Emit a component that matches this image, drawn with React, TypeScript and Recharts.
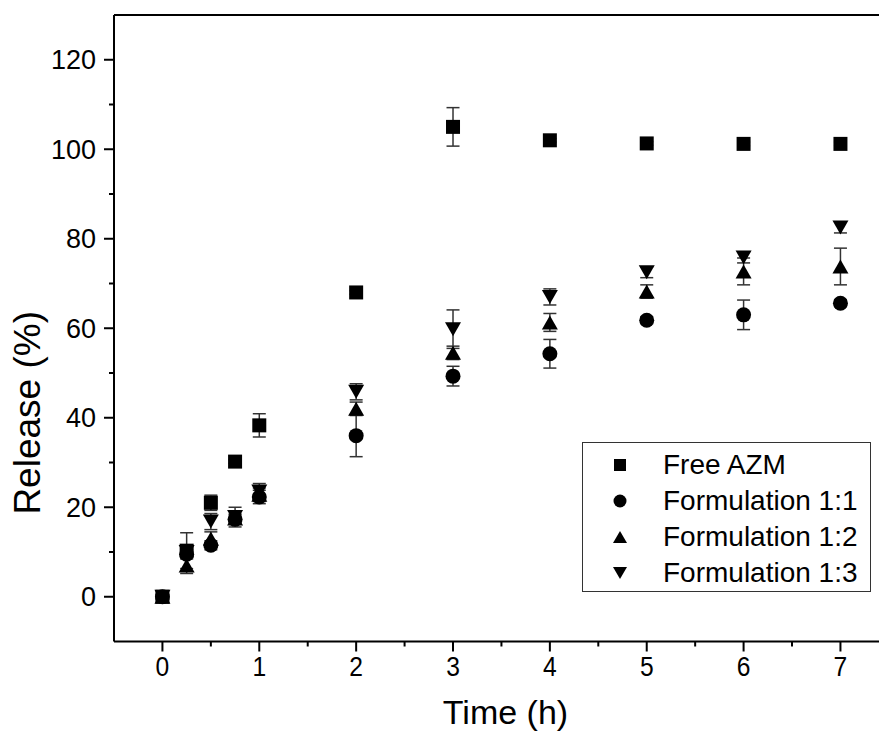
import {
  ScatterChart,
  Scatter,
  XAxis,
  YAxis,
  ErrorBar,
  ReferenceLine,
  Legend,
  Label,
} from "recharts";

const TIMES = [0, 0.25, 0.5, 0.75, 1, 2, 3, 4, 5, 6, 7];

const FREE_AZM = [0, 10.3, 21, 30.2, 38.3, 68, 105, 102, 101.3, 101.2, 101.2];
const FREE_AZM_ERR = [0.4, 4, 1.7, 0.4, 2.6, 0.4, 4.3, 0.4, 0.4, 0.4, 0.4];

const F11 = [0, 9.5, 11.5, 17.3, 22.3, 36, 49.3, 54.3, 61.8, 63, 65.6];
const F11_ERR = [0.4, 1, 1, 1, 1.5, 4.7, 2.2, 3.2, 0.8, 3.3, 0.8];

const F12 = [0, 7, 13, 17.5, 22.8, 42, 54.5, 61.3, 68.2, 72.7, 73.8];
const F12_ERR = [0.4, 1.8, 1.5, 1, 1.5, 1.5, 1.5, 2, 1.5, 3, 4.1];

const F13 = [0, 10, 16.8, 17.8, 23.5, 45.8, 59.8, 67, 72.5, 75.8, 82.5];
const F13_ERR = [0.4, 1.5, 1.8, 2.2, 1.8, 1.8, 4.3, 1.8, 1.2, 1.2, 1.2];

const X_TICKS = [0, 0.5, 1, 1.5, 2, 2.5, 3, 3.5, 4, 4.5, 5, 5.5, 6, 6.5, 7];
const Y_TICKS = [0, 10, 20, 30, 40, 50, 60, 70, 80, 90, 100, 110, 120];

const SERIES = [
  { name: "Free AZM", values: FREE_AZM, errors: FREE_AZM_ERR, kind: "square" },
  { name: "Formulation 1:1", values: F11, errors: F11_ERR, kind: "circle" },
  { name: "Formulation 1:2", values: F12, errors: F12_ERR, kind: "up" },
  { name: "Formulation 1:3", values: F13, errors: F13_ERR, kind: "down" },
];

const SANS = "'Liberation Sans', Arial, sans-serif";

function Marker({ cx, cy, kind, size = 14 }: any) {
  const h = size / 2;
  if (kind === "square")
    return <rect x={cx - h} y={cy - h} width={size} height={size} fill="#000" />;
  if (kind === "circle") return <circle cx={cx} cy={cy} r={h + 0.5} fill="#000" />;
  if (kind === "up")
    return (
      <polygon
        points={`${cx},${cy - h} ${cx + h + 1},${cy + h} ${cx - h - 1},${cy + h}`}
        fill="#000"
      />
    );
  return (
    <polygon
      points={`${cx},${cy + h} ${cx + h + 1},${cy - h} ${cx - h - 1},${cy - h}`}
      fill="#000"
    />
  );
}

function XTick({ x, y, payload }: any) {
  const major = Number.isInteger(payload.value);
  return (
    <g>
      <line x1={x} x2={x} y1={y} y2={y + (major ? 10 : 5)} stroke="#000" strokeWidth={2} />
      {major && (
        <text
          transform={`translate(${x}, ${y + 34}) scale(0.88, 1)`}
          textAnchor="middle"
          fontSize={28}
          fontFamily={SANS}
          fill="#000"
        >
          {payload.value}
        </text>
      )}
    </g>
  );
}

function YTick({ x, y, payload }: any) {
  const major = payload.value % 20 === 0;
  return (
    <g>
      <line x1={x - (major ? 10 : 5)} x2={x} y1={y} y2={y} stroke="#000" strokeWidth={2} />
      {major && (
        <text x={x - 18} y={y + 9.5} textAnchor="end" fontSize={27} fontFamily={SANS} fill="#000">
          {payload.value}
        </text>
      )}
    </g>
  );
}

function YTitle({ viewBox }: any) {
  const x = viewBox.x + 40;
  const y = viewBox.y + viewBox.height * 0.635;
  return (
    <text
      x={x}
      y={y}
      transform={`rotate(-90, ${x}, ${y})`}
      textAnchor="middle"
      fontSize={37}
      fontFamily={SANS}
      fill="#000"
    >
      Release (%)
    </text>
  );
}

function LegendBox() {
  return (
    <div
      style={{
        width: 289,
        height: 150,
        boxSizing: "border-box",
        border: "1px solid #333",
        background: "#fff",
        paddingTop: 4,
      }}
    >
      {SERIES.map((s) => (
        <div key={s.name} style={{ display: "flex", alignItems: "center", height: 36 }}>
          <svg width={80} height={36}>
            <Marker cx={37} cy={18} kind={s.kind} size={12} />
          </svg>
          <span style={{ fontFamily: SANS, fontSize: 28, color: "#000", lineHeight: "36px" }}>
            {s.name}
          </span>
        </div>
      ))}
    </div>
  );
}

export default function App() {
  return (
    <div style={{ position: "absolute", left: 0, top: 0, background: "#fff" }}>
      <ScatterChart width={879} height={733} margin={{ top: 15, right: 0, bottom: 0, left: 0 }}>
        <XAxis
          type="number"
          dataKey="t"
          domain={[-0.5, 7.398]}
          allowDataOverflow
          ticks={X_TICKS}
          interval={0}
          tick={<XTick />}
          tickLine={false}
          tickSize={0}
          tickMargin={0}
          height={91.5}
          axisLine={{ stroke: "#000", strokeWidth: 2 }}
        >
          <Label
            value="Time (h)"
            position="insideBottom"
            offset={9}
            dx={9}
            style={{ fontSize: 34, fontFamily: SANS, fill: "#000" }}
          />
        </XAxis>
        <YAxis
          type="number"
          dataKey="v"
          domain={[-10, 130]}
          allowDataOverflow
          ticks={Y_TICKS}
          interval={0}
          tick={<YTick />}
          tickLine={false}
          tickSize={0}
          tickMargin={0}
          width={114}
          axisLine={{ stroke: "#000", strokeWidth: 2 }}
        >
          <Label content={<YTitle />} />
        </YAxis>
        <ReferenceLine y={130} stroke="#000" strokeWidth={2} />
        {SERIES.map((s) => (
          <Scatter
            key={s.name}
            name={s.name}
            data={TIMES.map((t, i) => ({ t, v: s.values[i], err: s.errors[i] }))}
            shape={(p: any) => <Marker cx={p.cx} cy={p.cy} kind={s.kind} />}
            isAnimationActive={false}
          >
            <ErrorBar dataKey="err" direction="y" width={6.5} stroke="#333" strokeWidth={1.5} />
          </Scatter>
        ))}
        <Legend
          layout="vertical"
          align="center"
          verticalAlign="middle"
          content={<LegendBox />}
          wrapperStyle={{ left: 582, top: 442, width: 289, height: 150 }}
        />
      </ScatterChart>
    </div>
  );
}
